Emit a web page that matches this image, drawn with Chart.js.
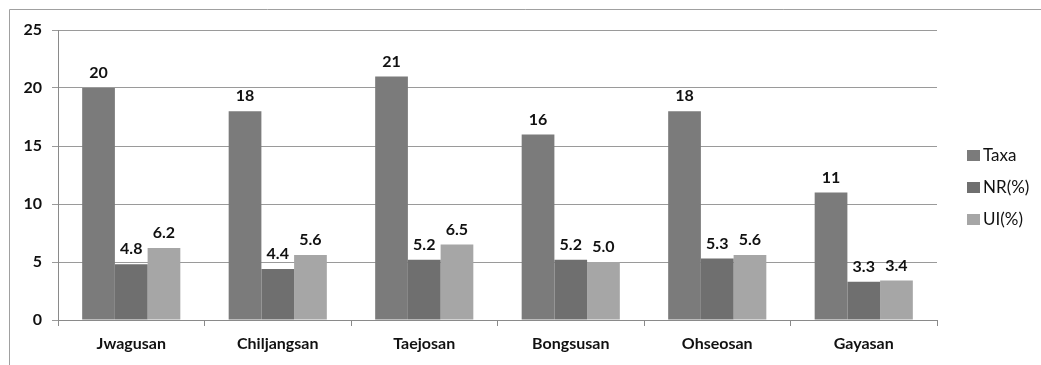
<!DOCTYPE html>
<html>
<head>
<meta charset="utf-8">
<script src="https://cdn.jsdelivr.net/npm/chart.js@4.4.1/dist/chart.umd.min.js"></script>
<style>
  html, body { margin: 0; padding: 0; background: #fff; }
  #wrap { width: 1041px; height: 365px; position: relative; }
</style>
</head>
<body>
<div id="wrap"><canvas id="c" width="1041" height="365"></canvas></div>
<script>
// Sites and the three measured series
const sites = ['Jwagusan', 'Chiljangsan', 'Taejosan', 'Bongsusan', 'Ohseosan', 'Gayasan'];
const taxa = [20, 18, 21, 16, 18, 11];
const nrPct = [4.8, 4.4, 5.2, 5.2, 5.3, 3.3];
const uiPct = [6.2, 5.6, 6.5, 5.0, 5.6, 3.4];
const yTicks = [0, 5, 10, 15, 20, 25];

const FONT = 'Lato, "Open Sans", "Liberation Sans", sans-serif';

// Decimal places shown on each series' value labels
const decimals = [0, 1, 1];

const frame = {
  id: 'frame',
  beforeDraw(chart) {
    const ctx = chart.ctx;
    ctx.save();
    ctx.fillStyle = '#fff';
    ctx.fillRect(0, 0, chart.width, chart.height);
    ctx.strokeStyle = '#a0a0a0';
    ctx.lineWidth = 1;
    ctx.beginPath();
    ctx.moveTo(9.5, chart.height);
    ctx.lineTo(9.5, 9.5);
    ctx.lineTo(chart.width, 9.5);
    ctx.stroke();
    ctx.restore();
  }
};

const valueLabels = {
  id: 'valueLabels',
  afterDatasetsDraw(chart) {
    const ctx = chart.ctx;
    ctx.save();
    ctx.font = 'bold 16px ' + FONT;
    ctx.fillStyle = '#111';
    ctx.textAlign = 'center';
    ctx.textBaseline = 'bottom';
    chart.data.datasets.forEach((ds, i) => {
      chart.getDatasetMeta(i).data.forEach((bar, j) => {
        ctx.fillText(ds.data[j].toFixed(decimals[i]), bar.x, bar.y - 7);
      });
    });
    ctx.restore();
  }
};

const sideLegend = {
  id: 'sideLegend',
  afterDraw(chart) {
    const ctx = chart.ctx;
    ctx.save();
    ctx.font = '17px ' + FONT;
    ctx.textBaseline = 'middle';
    ctx.textAlign = 'left';
    chart.data.datasets.forEach((ds, i) => {
      const y = 155 + i * 32;
      ctx.fillStyle = ds.backgroundColor;
      ctx.fillRect(967, y - 5, 13, 11);
      ctx.fillStyle = '#111';
      ctx.fillText(ds.label, 983, y + 1);
    });
    ctx.restore();
  }
};

new Chart(document.getElementById('c'), {
  type: 'bar',
  data: {
    labels: sites,
    datasets: [
      { label: 'Taxa', data: taxa, backgroundColor: '#7b7b7b' },
      { label: 'NR(%)', data: nrPct, backgroundColor: '#6f6f6f' },
      { label: 'UI(%)', data: uiPct, backgroundColor: '#a6a6a6' }
    ]
  },
  options: {
    responsive: false,
    animation: false,
    devicePixelRatio: 1,
    layout: { padding: { top: 30, right: 104, left: 0, bottom: 0 } },
    datasets: { bar: { barPercentage: 1, categoryPercentage: 0.67 } },
    plugins: { legend: { display: false }, tooltip: { enabled: false } },
    scales: {
      x: {
        afterFit(s) { s.height = 45; },
        grid: { offset: true, drawOnChartArea: false, drawTicks: true, tickLength: 6, color: '#8a8a8a' },
        border: { color: '#8a8a8a' },
        ticks: { color: '#111', font: { family: FONT, size: 16, weight: 'bold' }, padding: 8 }
      },
      y: {
        min: 0, max: 25,
        afterFit(s) { s.width = 58; },
        afterBuildTicks(s) { s.ticks = yTicks.map(v => ({ value: v })); },
        grid: { color: '#9a9a9a', tickLength: 6 },
        border: { color: '#8a8a8a' },
        ticks: { color: '#111', font: { family: FONT, size: 16, weight: 'bold' }, padding: 10 }
      }
    }
  },
  plugins: [frame, valueLabels, sideLegend]
});
</script>
</body>
</html>
